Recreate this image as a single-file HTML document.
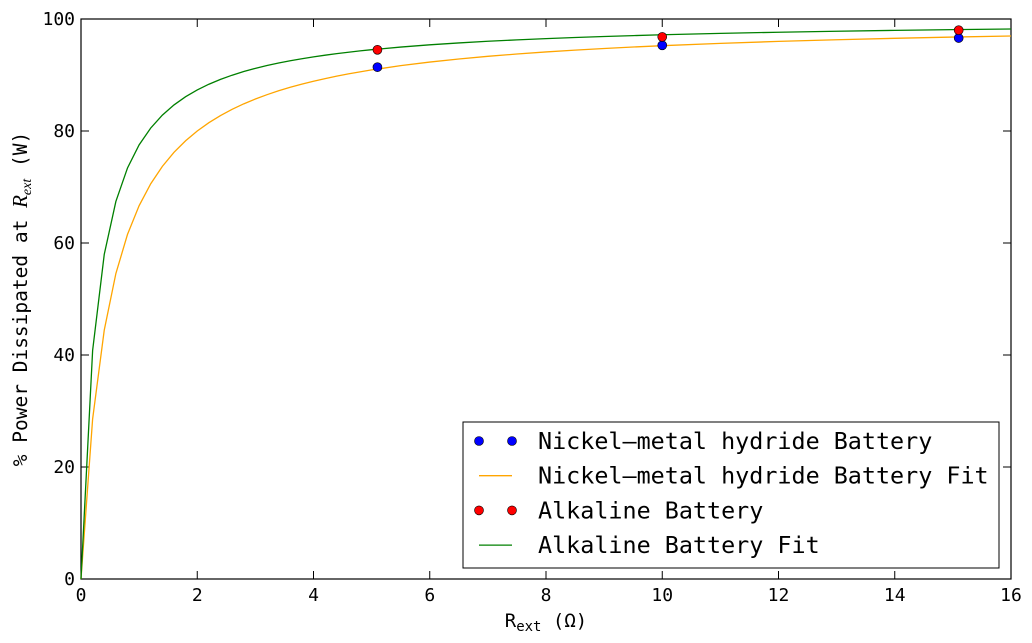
<!DOCTYPE html>
<html><head><meta charset="utf-8"><style>
html,body{margin:0;padding:0;background:#fff;}
svg{display:block;font-family:"DejaVu Sans Mono","Liberation Mono",monospace;}
</style></head><body>
<svg id="chart" width="1032" height="643" viewBox="0 0 1032 643" xmlns="http://www.w3.org/2000/svg"></svg>
<script>
const xTicks=[0,2,4,6,8,10,12,14,16];
const yTicks=[0,20,40,60,80,100];
const nimhR=[5.1,10,15.1];
const nimhP=[91.4,95.3,96.6];
const alkR=[5.1,10,15.1];
const alkP=[94.5,96.8,98.0];
const fitR=[0,0.2,0.4,0.6,0.8,1,1.2,1.4,1.6,1.8,2,2.2,2.4,2.6,2.8,3,3.2,3.4,3.6,3.8,4,4.2,4.4,4.6,4.8,5,5.5,6,6.5,7,7.5,8,8.5,9,9.5,10,11,12,13,14,15,16];
const nimhInternalR=[0.5];
const alkInternalR=[0.29];
const L=81,R=1011,T=19,B=579;
const sx=v=>L+(v-0)/(16-0)*(R-L);
const sy=v=>B-(v-0)/(100-0)*(B-T);
const svg=document.getElementById('chart');
const NS='http://www.w3.org/2000/svg';
function mk(tag,attrs,parent){const e=document.createElementNS(NS,tag);for(const k in attrs)e.setAttribute(k,attrs[k]);(parent||svg).appendChild(e);return e;}
const frame=mk('rect',{x:L,y:T,width:R-L,height:B-T,fill:'none',stroke:'#000','stroke-width':1.2});


xTicks.forEach(t=>{
  const x=sx(t);
  mk('line',{x1:x,y1:B,x2:x,y2:B-8,stroke:'#000'});
  mk('line',{x1:x,y1:T,x2:x,y2:T+8,stroke:'#000'});
  const tx=mk('text',{x:x,y:B+22,'text-anchor':'middle','font-size':18});
  tx.textContent=t;
  
  
});
yTicks.forEach(t=>{
  const y=sy(t);
  mk('line',{x1:L,y1:y,x2:L+8,y2:y,stroke:'#000'});
  mk('line',{x1:R,y1:y,x2:R-8,y2:y,stroke:'#000'});
  const tx=mk('text',{x:L-6,y:y+6,'text-anchor':'end','font-size':18});
  tx.textContent=t;
  
  
});
function fitLine(r,color,name){
  const pts=fitR.map(v=>sx(v)+','+sy(100*v/(v+r))).join(' ');
  const p=mk('polyline',{points:pts,fill:'none',stroke:color,'stroke-width':1.3});
  
  
}
fitLine(nimhInternalR[0],'#ffa500','nimh-fit-line');
fitLine(alkInternalR[0],'#008000','alkaline-fit-line');
nimhR.forEach((v,i)=>{
  const c=mk('circle',{cx:sx(v),cy:sy(nimhP[i]),r:4.5,fill:'#0000ff',stroke:'#000','stroke-width':0.6});
  
  
});
alkR.forEach((v,i)=>{
  const c=mk('circle',{cx:sx(v),cy:sy(alkP[i]),r:4.5,fill:'#ff0000',stroke:'#000','stroke-width':0.6});
  
  
});
const xl=mk('text',{x:546,y:627,'text-anchor':'middle','font-size':19});
xl.innerHTML='R<tspan font-size="14" dy="4">ext</tspan><tspan dy="-4"> (Ω)</tspan>';


const yl=mk('text',{x:0,y:0,'text-anchor':'middle','font-size':19.5,transform:'translate(27,299) rotate(-90)'});
yl.innerHTML='% Power Dissipated at <tspan font-family="Liberation Serif,serif" font-style="italic" font-size="21">R</tspan><tspan font-family="Liberation Serif,serif" font-style="italic" font-size="14" dy="4">ext</tspan><tspan dy="-4"> (W)</tspan>';


const lg=mk('g',{});


mk('rect',{x:463,y:422,width:536,height:146,fill:'#fff',stroke:'#000','stroke-width':1},lg);
const entries=[['Nickel–metal hydride Battery','pt','#0000ff'],['Nickel–metal hydride Battery Fit','ln','#ffa500'],['Alkaline Battery','pt','#ff0000'],['Alkaline Battery Fit','ln','#008000']];
entries.forEach((e,i)=>{
  const y=441+i*34.7;
  const g=mk('g',{},lg);
  
  
  if(e[1]==='pt'){
    mk('circle',{cx:479,cy:y,r:4.5,fill:e[2],stroke:'#000','stroke-width':0.6},g);
    mk('circle',{cx:512,cy:y,r:4.5,fill:e[2],stroke:'#000','stroke-width':0.6},g);
  }else{
    mk('line',{x1:479,y1:y,x2:512,y2:y,stroke:e[2],'stroke-width':1.3},g);
  }
  const t=mk('text',{x:538,y:y+8,'font-size':23.4},g);
  t.textContent=e[0];
});
</script>
</body></html>
